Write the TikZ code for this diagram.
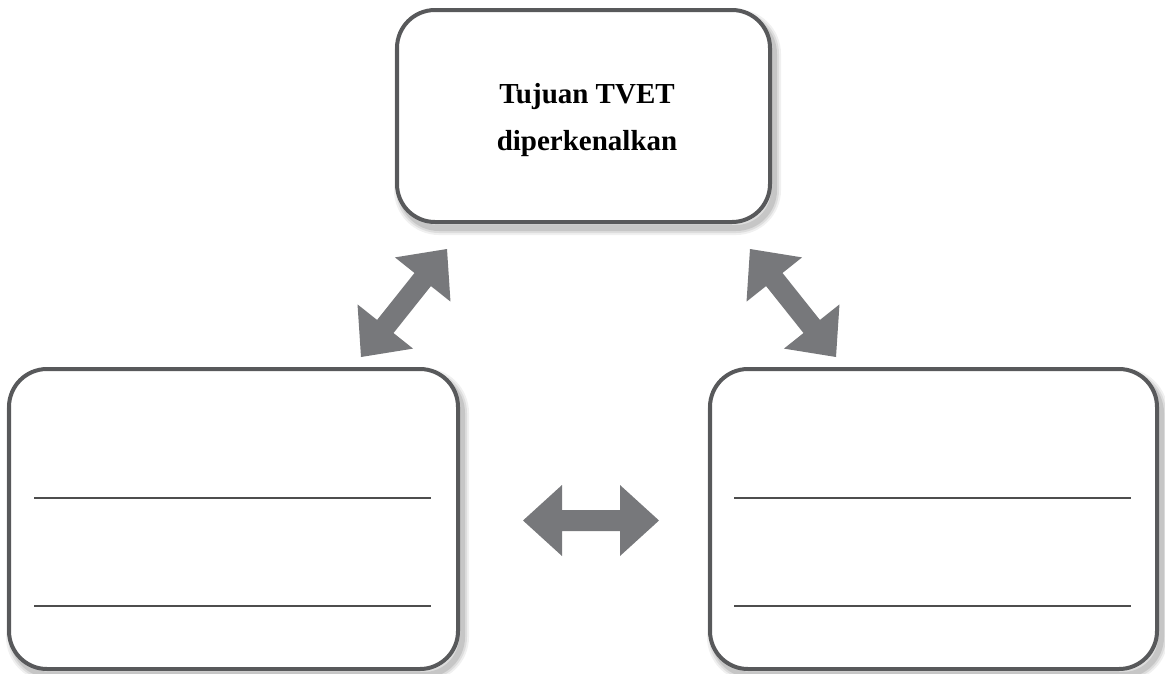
\documentclass[tikz,border=0pt]{standalone}
\usepackage{fontspec}
\setmainfont{Liberation Serif}
\usetikzlibrary{calc}
\definecolor{boxline}{HTML}{58595B}
\definecolor{arrowfill}{HTML}{77787B}
\definecolor{ruleline}{HTML}{4D4D4D}
\tikzset{
  shadowlayer/.style={draw=black, draw opacity=#1, fill=none, transform canvas={shift={(4pt,-6pt)}}},
  card/.style={shape=rectangle, draw=boxline, line width=4pt, fill=white, rounded corners=38pt, inner sep=0pt,
    preaction={shadowlayer=0.06, line width=14pt},
    preaction={shadowlayer=0.08, line width=10pt},
    preaction={shadowlayer=0.10, line width=6pt}},
  rule/.style={draw=ruleline, line width=1.5pt},
  fatarrow/.style={fill=arrowfill},
  title/.style={font=\fontsize{29}{47}\selectfont\bfseries, align=center, inner sep=0pt}
}
\newcommand\fatdouble[2]{%
  \fill[fatarrow] (#1)
    -- ($(#1)!39pt!(#2)!35.5pt!90:(#2)$)
    -- ($(#1)!39pt!(#2)!10.5pt!90:(#2)$)
    -- ($(#2)!39pt!(#1)!10.5pt!270:(#1)$)
    -- ($(#2)!39pt!(#1)!35.5pt!270:(#1)$)
    -- (#2)
    -- ($(#2)!39pt!(#1)!35.5pt!90:(#1)$)
    -- ($(#2)!39pt!(#1)!10.5pt!90:(#1)$)
    -- ($(#1)!39pt!(#2)!10.5pt!270:(#2)$)
    -- ($(#1)!39pt!(#2)!35.5pt!270:(#2)$)
    -- cycle;}
\begin{document}
\begin{tikzpicture}[x=1pt, y=-1pt]
  \useasboundingbox (0,0) rectangle (1165,673);
  % boxes
  \node[card, minimum width=373pt, minimum height=212pt] (top) at (583.5,116) {};
  \node[title] (toptext) at (587,120) {Tujuan TVET\\diperkenalkan};
  \node[card, minimum width=449pt, minimum height=300pt] (left) at (233.5,519) {};
  \node[card, minimum width=447pt, minimum height=300pt] (right) at (933.5,519) {};
  % writing lines
  \draw[rule] (34,498) -- (431,498);
  \draw[rule] (34,606) -- (431,606);
  \draw[rule] (734,498) -- (1131,498);
  \draw[rule] (734,606) -- (1131,606);
  % arrow end points
  \coordinate (la1) at (361,357);
  \coordinate (la2) at (447,249);
  \coordinate (ra1) at (836,357);
  \coordinate (ra2) at (750,249);
  \coordinate (ma1) at (523,520.5);
  \coordinate (ma2) at (659,520.5);
  \fatdouble{la1}{la2}
  \fatdouble{ra1}{ra2}
  \fatdouble{ma1}{ma2}
\end{tikzpicture}
\end{document}
